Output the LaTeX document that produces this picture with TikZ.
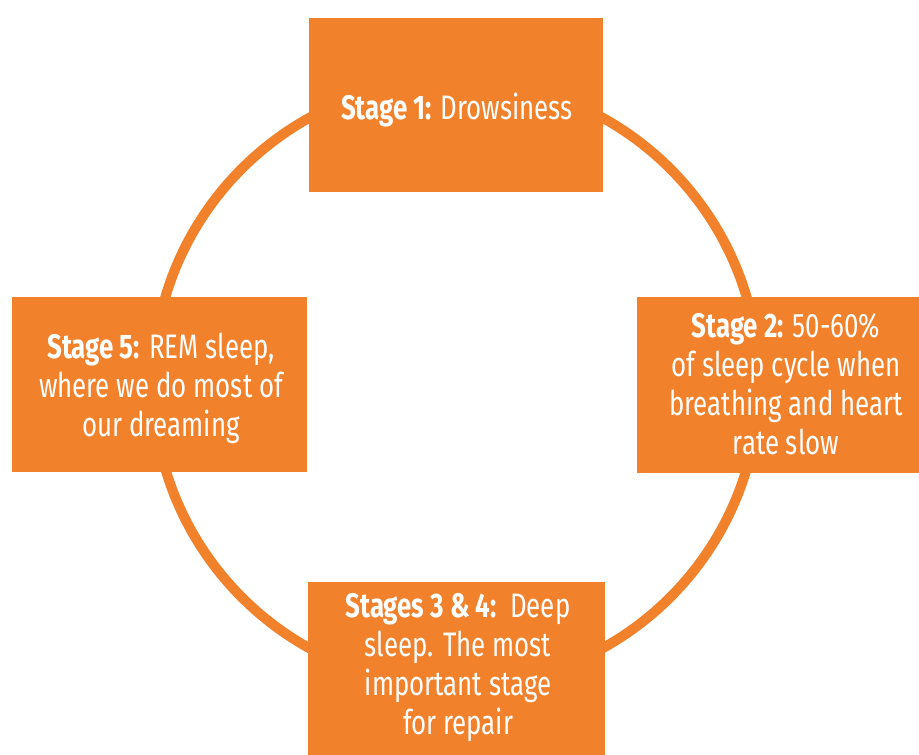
\documentclass[tikz,border=0pt]{standalone}
\usepackage{fontspec}
\setmainfont[FakeStretch=0.76]{Fira Sans}
\definecolor{stageorange}{HTML}{F2812B}
\begin{document}
\begin{tikzpicture}[x=1pt,y=-1pt,
  stagebox/.style={fill=stageorange, draw=none, inner sep=0pt, rectangle},
  stagetext/.style={text=white, inner sep=0pt, align=center, font=\fontsize{34}{39}\selectfont},
  ring/.style={draw=stageorange, line width=10pt, circle, inner sep=0pt}]
\useasboundingbox (0,0) rectangle (919,755);
\node[ring, minimum size=606pt] (cycle) at (456,383) {};
\node[stagebox, minimum width=294pt, minimum height=174pt] (b1) at (456,105) {};
\node[stagebox, minimum width=295pt, minimum height=175pt] (b5) at (159.5,384.5) {};
\node[stagebox, minimum width=298pt, minimum height=176pt] (b2) at (786,385) {};
\node[stagebox, minimum width=297pt, minimum height=176pt] (b34) at (456.5,670) {};
\node[stagetext] (t1) at (457,110) {\textbf{Stage 1:} Drowsiness};
\node[stagetext] (t5) at (161,388) {\textbf{Stage 5:} REM sleep,\\where we do most of\\our dreaming};
\node[stagetext] (t2) at (786,384) {\textbf{Stage 2:} 50-60\%\\of sleep cycle when\\breathing and heart\\rate slow};
\node[stagetext] (t34) at (458,668) {\textbf{Stages 3 \& 4:}\ \ Deep\\sleep. The most\\important stage\\for repair};
\end{tikzpicture}
\end{document}
